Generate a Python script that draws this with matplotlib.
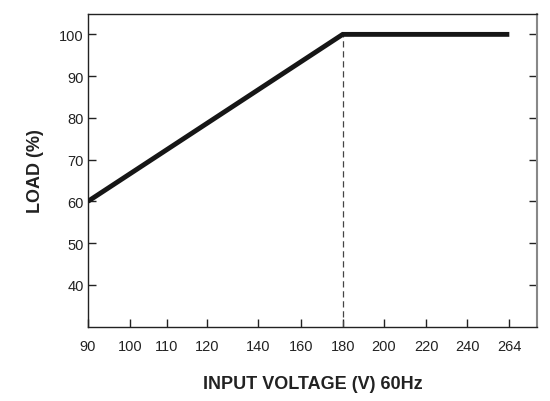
import numpy as np
import matplotlib
matplotlib.use("Agg")
import matplotlib.pyplot as plt

# data
volts = [90, 180, 264]
load = [60, 100, 100]
knee_v = 180
knee_load = 100

x_ticks = [90, 100, 110, 120, 140, 160, 180, 200, 220, 240, 264]
y_ticks = [40, 50, 60, 70, 80, 90, 100]

# the printed axis is not linear in volts: piecewise mapping of ticks
scale_v = np.array(x_ticks + [280], dtype=float)
scale_px = np.array([0, 42, 78.7, 118.7, 170.3, 212.7, 254.7, 296, 338, 379.3, 421.3, 449.0])


def fwd(v):
    return np.interp(v, scale_v, scale_px)


def inv(p):
    return np.interp(p, scale_px, scale_v)


plt.rcParams['font.family'] = ['Liberation Sans Narrow', 'Liberation Sans', 'DejaVu Sans']

fig = plt.figure(figsize=(5.5, 4.02), dpi=100)
ax = fig.add_axes([0.16, 0.1853, 0.8164, 0.7786])
ax.set_xscale('function', functions=(fwd, inv))

ax.plot(volts, load, color='#161616', lw=3.5, solid_capstyle='butt', solid_joinstyle='miter', zorder=3)
ax.plot([knee_v, knee_v], [30, knee_load], color='#444444', lw=0.9, ls=(0, (5, 3)), zorder=2)

ax.set_xlim(90, 280)
ax.set_ylim(30, 105)
ax.set_xticks(x_ticks)
ax.set_xticklabels([str(v) for v in x_ticks])
ax.set_yticks(y_ticks)

ax.tick_params(axis='both', direction='in', length=6, width=1, labelsize=10.5, colors='#222222')
ax.tick_params(axis='x', pad=9)
ax.tick_params(axis='y', right=True, pad=3)

for s in ['left', 'bottom', 'top']:
    ax.spines[s].set_linewidth(1)
    ax.spines[s].set_color('#222222')
ax.spines['right'].set_color('#888888')
ax.spines['right'].set_linewidth(1.5)

ax.set_xlabel('INPUT VOLTAGE (V) 60Hz', fontsize=13, fontweight='bold', labelpad=16, color='#222222')
ax.set_ylabel('LOAD (%)', fontsize=13, fontweight='bold', labelpad=11, color='#222222')

fig.savefig('out.png', dpi=100)
